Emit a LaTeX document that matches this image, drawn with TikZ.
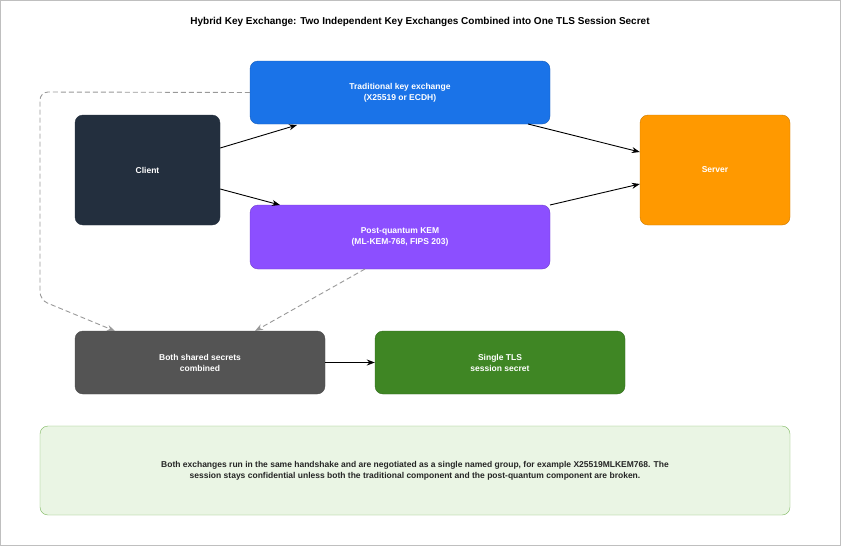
\documentclass[tikz,border=0pt]{standalone}
\usepackage{fontspec}
\setmainfont{Liberation Sans}
\usetikzlibrary{arrows.meta}
\definecolor{cblue}{HTML}{1A73E8}
\definecolor{cdark}{HTML}{232F3E}
\definecolor{corange}{HTML}{FF9900}
\definecolor{cpurple}{HTML}{8C4FFF}
\definecolor{cgray}{HTML}{545454}
\definecolor{cgreen}{HTML}{3F8624}
\definecolor{notefill}{HTML}{EAF5E4}
\definecolor{noteline}{HTML}{7DB85E}
\begin{document}
\begin{tikzpicture}[x=1pt,y=-1pt,
 box/.style={draw, rounded corners=8pt, text=white, font=\bfseries\fontsize{8.5}{11}\selectfont, align=center, inner sep=0pt},
 arr/.style={-{Stealth[length=8pt,width=6pt]}, line width=0.9pt, black},
 dasharr/.style={-{Stealth[length=8pt,width=6pt]}, line width=0.9pt, draw=gray!80, dash pattern=on 5pt off 3pt}]
\useasboundingbox (0,0) rectangle (841,546);
\draw[gray!50, fill=white] (0.5,0.5) rectangle (840.5,545.5);
\node (title) at (420,22) {\bfseries\fontsize{10}{12}\selectfont Hybrid Key Exchange: Two Independent Key Exchanges Combined into One TLS Session Secret};
\node[box, fill=cblue, draw=cblue!80!black, minimum width=300pt, minimum height=63pt] (trad) at (400,92.5) {Traditional key exchange\\(X25519 or ECDH)};
\node[box, fill=cdark, draw=cdark, minimum width=145pt, minimum height=110pt] (client) at (147.5,170) {Client};
\node[box, fill=corange, draw=corange!80!black, minimum width=150pt, minimum height=110pt] (server) at (715,170) {Server};
\node[box, fill=cpurple, draw=cpurple!80!black, minimum width=300pt, minimum height=64pt] (pq) at (400,237) {Post-quantum KEM\\(ML-KEM-768, FIPS 203)};
\node[box, fill=cgray, draw=black!70, minimum width=250pt, minimum height=63pt] (both) at (200,362.5) {Both shared secrets\\combined};
\node[box, fill=cgreen, draw=cgreen!80!black, minimum width=250pt, minimum height=63pt] (single) at (500,362.5) {Single TLS\\session secret};
\node[box, fill=notefill, draw=noteline, text=black!85, minimum width=750pt, minimum height=89pt] (note) at (415,470.5) {Both exchanges run in the same handshake and are negotiated as a single named group, for example X25519MLKEM768. The\\session stays confidential unless both the traditional component and the post-quantum component are broken.};
\draw[arr] (client.east |- 0,148) -- (297,125);
\draw[arr] (client.east |- 0,189) -- (280,205);
\draw[arr] (528,124) -- (server.west |- 0,152);
\draw[arr] (550,205) -- (server.west |- 0,184);
\draw[arr] (both) -- (single);
\coordinate (c1) at (40,92);
\coordinate (c2) at (40,300);
\draw[dasharr, rounded corners=8pt] (trad.west) -- (c1) -- (c2) -- (115,331);
\draw[dasharr] (365,269) -- (255,331);
\end{tikzpicture}
\end{document}
